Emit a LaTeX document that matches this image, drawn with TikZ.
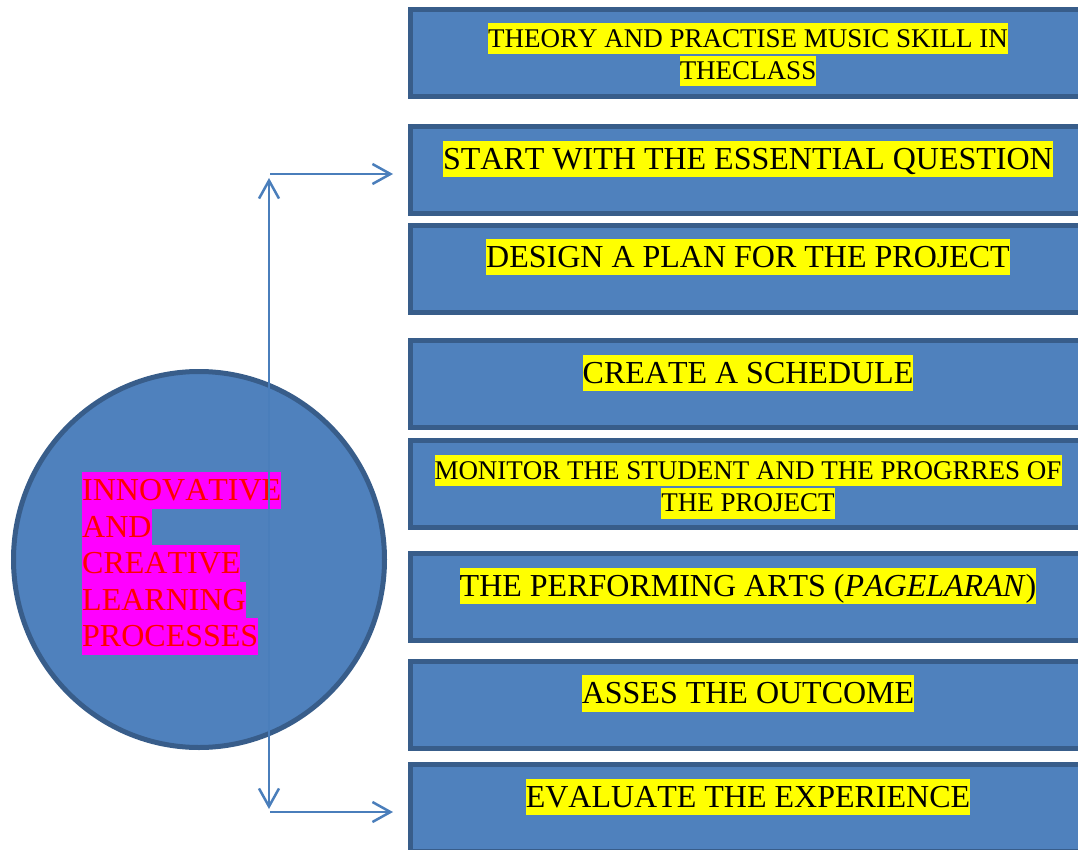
\documentclass[tikz,border=0pt]{standalone}
\usepackage{fontspec}
\setmainfont{Liberation Serif}[Kerning=Off]
\usetikzlibrary{arrows.meta,shapes.geometric}
\definecolor{boxfill}{HTML}{4F81BD}
\definecolor{boxline}{HTML}{385D8A}
\definecolor{linkblue}{HTML}{4A7EBB}
\definecolor{hlyellow}{HTML}{FFFF00}
\definecolor{hlmagenta}{HTML}{FF00FF}
\begin{document}
\begin{tikzpicture}[x=1pt,y=-1pt,
  stepbox/.style={draw=boxline, fill=boxfill, line width=5pt,
    minimum width=675pt, minimum height=87pt, anchor=north west,
    inner sep=0pt, outer sep=0pt},
  hl/.style={fill=hlyellow, text=black, inner sep=0pt, anchor=north},
  big/.style={font=\fontsize{32}{37}\selectfont,
    text height=28.5pt, text depth=8pt},
  small/.style={font=\fontsize{27}{31}\selectfont,
    text height=24pt, text depth=6.8pt},
  hub/.style={ellipse, draw=boxline, fill=boxfill, line width=5pt,
    minimum width=371pt, minimum height=376pt, inner sep=0pt, outer sep=0pt},
  hubtext/.style={fill=hlmagenta, text=red, inner sep=0pt,
    text height=28.5pt, text depth=8pt, anchor=north west,
    font=\fontsize{32}{37}\selectfont},
  link/.style={draw=linkblue, line width=2.5pt},
  barb/.tip={Straight Barb[length=18pt,width=20pt]}]
\useasboundingbox (0,0) rectangle (1078,850);
\clip (0,0) rectangle (1078,850);

% step boxes
\node[stepbox] (s1) at (410.5,9.5) {};
\node[stepbox] (s2) at (410.5,126.5) {};
\node[stepbox] (s3) at (410.5,225.5) {};
\node[stepbox] (s4) at (410.5,340.5) {};
\node[stepbox] (s5) at (410.5,440.5) {};
\node[stepbox] (s6) at (410.5,553.5) {};
\node[stepbox] (s7) at (410.5,661.5) {};
\node[stepbox] (s8) at (410.5,764.5) {};

% hub shape
\node[hub] (hub) at (199,559.5) {};
\node[hubtext] (h1) at (82,472) {INNOVATIVE};
\node[hubtext] (h2) at (82,508.5) {AND};
\node[hubtext] (h3) at (82,545) {CREATIVE};
\node[hubtext] (h4) at (82,581.5) {LEARNING};
\node[hubtext] (h5) at (82,618) {PROCESSES};

% box labels
\node[hl,small] (t1a) at (748,23) {THEORY AND PRACTISE MUSIC SKILL IN};
\node[hl,small] (t1b) at (748,55.5) {THECLASS};
\node[hl,big] (t2) at (748,140.5) {START WITH THE ESSENTIAL QUESTION};
\node[hl,big] (t3) at (748,238.5) {DESIGN A PLAN FOR THE PROJECT};
\node[hl,big] (t4) at (748,354.5) {CREATE A SCHEDULE};
\node[hl,small] (t5a) at (748,455) {MONITOR THE STUDENT AND THE PROGRRES OF};
\node[hl,small] (t5b) at (748,487.5) {THE PROJECT};
\node[hl,big] (t6) at (748,567.5) {THE PERFORMING ARTS (\textit{PAGELARAN})};
\node[hl,big] (t7) at (748,675) {ASSES THE OUTCOME};
\node[hl,big] (t8) at (748,778.5) {EVALUATE THE EXPERIENCE};

% connectors
\coordinate (jt) at (270,174);
\coordinate (jb) at (270,812);
\coordinate (vt) at (269,178);
\coordinate (vb) at (269,809);
\draw[link, barb-barb] (vt) -- (vb);
\draw[link, -barb, shorten >=17.5pt] (jt) -- (jt -| s2.west);
\draw[link, -barb, shorten >=17.5pt] (jb) -- (jb -| s8.west);
\end{tikzpicture}
\end{document}
